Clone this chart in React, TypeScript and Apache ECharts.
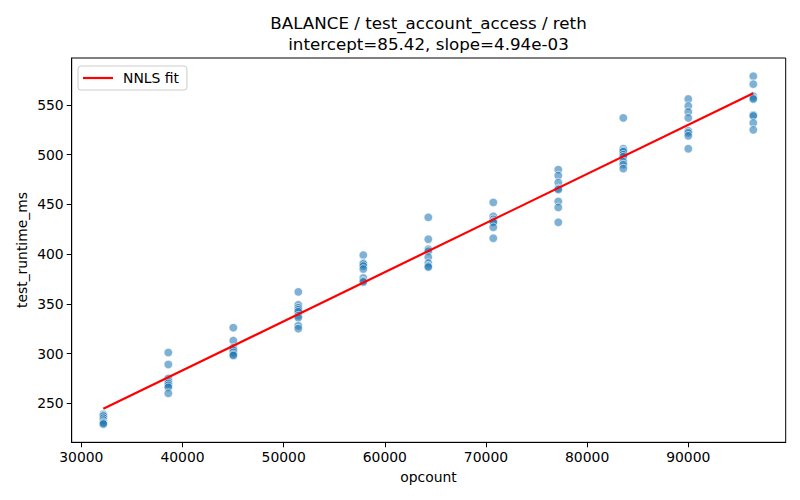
import React, { useEffect, useRef } from "react";
import * as echarts from "echarts";

const opcounts = [32175, 38600, 45025, 51450, 57875, 64300, 70725, 77150, 83575, 90000, 96425];
const runtimes = [
  [239, 238, 237, 235, 233, 231, 230, 229],
  [301, 289, 275, 272, 270, 268, 266, 260],
  [326, 313, 306, 304, 303, 301, 299, 298],
  [362, 349, 346, 344, 342, 338, 336, 328, 325],
  [399, 391, 390, 388, 385, 376, 373, 372],
  [437, 415, 405, 403, 397, 391, 388, 387],
  [452, 438, 435, 433, 432, 427, 416],
  [485, 479, 472, 466, 465, 453, 447, 432],
  [537, 506, 504, 503, 500, 498, 493, 490, 486],
  [556, 549, 543, 537, 524, 522, 519, 506],
  [579, 571, 559, 557, 556, 540, 539, 532, 525],
];
const fitX = [32175, 96425];
const fitY = [244.4, 561.8];
const xTicks = [30000, 40000, 50000, 60000, 70000, 80000, 90000];
const yTicks = [250, 300, 350, 400, 450, 500, 550];
const titleLines = ["BALANCE / test_account_access / reth", "intercept=85.42, slope=4.94e-03"];

const FONT = "DejaVu Sans";

export default function App() {
  const ref = useRef<HTMLDivElement>(null);
  useEffect(() => {
    if (!ref.current) return;
    const chart = echarts.init(ref.current, null, { renderer: "svg" });
    const points: number[][] = [];
    opcounts.forEach((x, i) => runtimes[i].forEach((y) => points.push([x, y])));
    chart.setOption({
      animation: false,
      backgroundColor: "#fff",
      textStyle: { fontFamily: FONT, color: "#000" },
      title: {
        text: titleLines.join("\n"),
        left: 428.5,
        top: 12,
        textAlign: "center",
        textStyle: { fontFamily: FONT, fontSize: 16.7, fontWeight: "normal", color: "#000", lineHeight: 21.5 },
        padding: 0,
      },
      legend: {
        data: ["NNLS fit"],
        left: 78,
        top: 66,
        orient: "vertical",
        padding: [5, 8, 5, 5],
        itemWidth: 30,
        itemHeight: 14,
        icon: "path://M0,0 L30,0 L30,2.2 L0,2.2 Z",
        backgroundColor: "rgba(255,255,255,0.8)",
        borderColor: "#cccccc",
        borderWidth: 1,
        borderRadius: 3,
        textStyle: { fontFamily: FONT, fontSize: 13.9, color: "#000", padding: [0, 0, 0, 5] },
      },
      grid: {
        left: 71.7,
        right: 14.3,
        top: 58,
        bottom: 57.7,
        show: true,
        borderColor: "#000",
        borderWidth: 1,
        backgroundColor: "transparent",
      },
      xAxis: {
        type: "value",
        min: 29050,
        max: 99630,
        splitLine: { show: false },
        axisLine: { show: true, lineStyle: { color: "#000", width: 1 } },
        axisTick: { show: true, length: 5, inside: false, customValues: xTicks, lineStyle: { color: "#000" } },
        axisLabel: {
          customValues: xTicks,
          formatter: (v: number) => String(v),
          fontFamily: FONT,
          fontSize: 13.9,
          color: "#000",
          margin: 8,
        },
      },
      yAxis: {
        type: "value",
        min: 210.7,
        max: 597.3,
        splitLine: { show: false },
        axisLine: { show: true, lineStyle: { color: "#000", width: 1 } },
        axisTick: { show: true, length: 5, inside: false, customValues: yTicks, lineStyle: { color: "#000" } },
        axisLabel: {
          customValues: yTicks,
          formatter: (v: number) => String(v),
          fontFamily: FONT,
          fontSize: 13.9,
          color: "#000",
          margin: 8,
        },
      },
      graphic: [
        {
          type: "text",
          x: 428.5,
          y: 477,
          style: { text: "opcount", fontFamily: FONT, fontSize: 13.9, fill: "#000", align: "center", verticalAlign: "middle" },
        },
        {
          type: "text",
          x: 22,
          y: 250,
          rotation: Math.PI / 2,
          style: { text: "test_runtime_ms", fontFamily: FONT, fontSize: 13.9, fill: "#000", align: "center", verticalAlign: "middle" },
        },
      ],
      series: [
        {
          type: "scatter",
          data: points,
          symbolSize: 8.5,
          itemStyle: { color: "rgba(31,119,180,0.72)", borderColor: "#ffffff", borderWidth: 0.8 },
        },
        {
          name: "NNLS fit",
          type: "line",
          data: fitX.map((x, i) => [x, fitY[i]]),
          symbol: "none",
          lineStyle: { color: "#ff0000", width: 2.2 },
          itemStyle: { color: "#ff0000" },
        },
      ],
    });
    return () => chart.dispose();
  }, []);
  return <div ref={ref} style={{ width: 800, height: 500, margin: -8 }} />;
}
